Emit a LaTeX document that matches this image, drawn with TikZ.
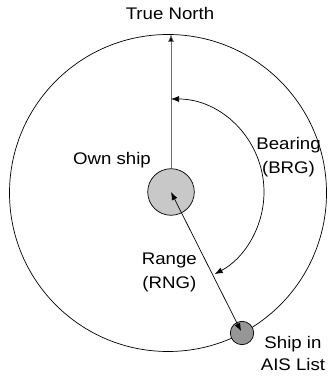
\documentclass[tikz,border=0pt]{standalone}
\usepackage{fontspec}
\setmainfont{Liberation Sans}[FakeStretch=1.11]
\usetikzlibrary{arrows.meta}
\definecolor{ownfill}{RGB}{200,200,200}
\definecolor{targetfill}{RGB}{150,150,150}
\definecolor{northline}{RGB}{110,110,110}
\begin{document}
\begin{tikzpicture}[
    x=1pt, y=1pt,
    >={Latex[length=8pt,width=6pt]},
    label/.style={
        inner sep=0pt,
        anchor=base,
        font=\fontsize{16.8}{24}\selectfont
    },
    ship/.style={
        draw,
        circle,
        line width=0.7pt,
        inner sep=0pt
    },
    arrow/.style={->, line width=0.7pt}
]

\useasboundingbox (0,0) rectangle (328,377);

% RANGE RING
\node[draw, circle, line width=0.7pt, minimum size=317pt, inner sep=0pt] (ring) at (168,184) {};

% SHIPS
\node[ship, fill=ownfill, minimum size=46.6pt] (own) at (171,185) {};
\node[ship, fill=targetfill, minimum size=23.4pt] (target) at (242,44) {};

% TRUE NORTH
\coordinate (north) at (171,343);
\node[label] (truenorth) at (170,357.7) {True North};
\draw[arrow, draw=northline, -{Latex[length=8pt,width=6pt,fill=black]}] (own.north) -- (north);

% BEARING
\coordinate (brgstart) at (171,278);
\draw[<->, line width=0.7pt] (brgstart) arc (90:-62:93pt) coordinate (brgend);
\node[label] (bearing) at (288.5,227.7) {Bearing};
\node[label] (brg) at (288.5,203.7) {(BRG)};

% RANGE
\draw[<->, line width=0.7pt, shorten >=2pt] (own.center) -- (target.center);
\node[label] (range) at (169.3,112.7) {Range};
\node[label] (rng) at (169.3,88.7) {(RNG)};

% LABELS
\node[label] (ownlabel) at (112,212.7) {Own ship};
\node[label] (shipin) at (293,28.7) {Ship in};
\node[label] (aislist) at (293,6.3) {AIS List};

\end{tikzpicture}
\end{document}
